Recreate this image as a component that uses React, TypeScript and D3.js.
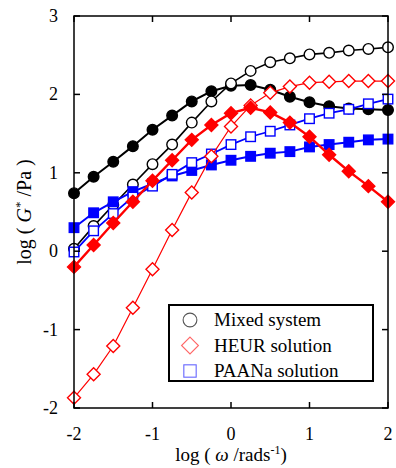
import React from 'react';
import * as d3 from 'd3';

// log(omega) grid, 0.25 step
const logW = [-2, -1.75, -1.5, -1.25, -1, -0.75, -0.5, -0.25, 0, 0.25, 0.5, 0.75, 1, 1.25, 1.5, 1.75, 2];

// Mixed system
const mixedG1 = [0.03, 0.32, 0.59, 0.85, 1.11, 1.36, 1.64, 1.91, 2.14, 2.30, 2.41, 2.46, 2.51, 2.53, 2.56, 2.58, 2.60];
const mixedG2 = [0.74, 0.95, 1.14, 1.34, 1.55, 1.73, 1.91, 2.04, 2.11, 2.12, 2.06, 1.97, 1.90, 1.85, 1.82, 1.81, 1.80];
// HEUR solution
const heurG1 = [-1.87, -1.57, -1.21, -0.72, -0.23, 0.27, 0.75, 1.21, 1.59, 1.86, 2.02, 2.10, 2.15, 2.16, 2.17, 2.17, 2.17];
const heurG2 = [-0.20, 0.08, 0.36, 0.63, 0.90, 1.16, 1.42, 1.61, 1.76, 1.83, 1.77, 1.64, 1.46, 1.23, 1.02, 0.83, 0.63];
// PAANa solution
const paanaG1 = [-0.01, 0.26, 0.48, 0.69, 0.83, 0.98, 1.13, 1.24, 1.36, 1.46, 1.53, 1.61, 1.69, 1.76, 1.81, 1.88, 1.94];
const paanaG2 = [0.30, 0.49, 0.63, 0.76, 0.86, 0.96, 1.03, 1.10, 1.16, 1.21, 1.25, 1.27, 1.33, 1.36, 1.39, 1.42, 1.43];

const xTicks = [-2, -1, 0, 1, 2];
const yTicks = [-2, -1, 0, 1, 2, 3];
const legendLabels = ['Mixed system', 'HEUR solution', 'PAANa solution'];

const W = 396;
const H = 468;
const plot = { left: 74, right: 388, top: 16, bottom: 408 };

const x = d3.scaleLinear().domain([-2, 2]).range([plot.left, plot.right]);
const y = d3.scaleLinear().domain([-2, 3]).range([plot.bottom, plot.top]);

type Shape = 'circle' | 'diamond' | 'square';

const series = [
  { vals: mixedG2, color: '#000', shape: 'circle' as Shape, filled: true, lw: 2 },
  { vals: mixedG1, color: '#000', shape: 'circle' as Shape, filled: false, lw: 1.6 },
  { vals: paanaG2, color: '#0000ff', shape: 'square' as Shape, filled: true, lw: 2 },
  { vals: paanaG1, color: '#0000ff', shape: 'square' as Shape, filled: false, lw: 1.8 },
  { vals: heurG1, color: '#ff0000', shape: 'diamond' as Shape, filled: false, lw: 1.2 },
  { vals: heurG2, color: '#ff0000', shape: 'diamond' as Shape, filled: true, lw: 2.4 },
];

const line = d3.line<number>().x((_, i) => x(logW[i])).y((d) => y(d));

function Marker({ shape, cx, cy, color, filled, size = 1, sw = 1.4 }: any) {
  const fill = filled ? color : '#fff';
  if (shape === 'circle') {
    return <circle cx={cx} cy={cy} r={5.3 * size} fill={fill} stroke={color} strokeWidth={sw} />;
  }
  if (shape === 'square') {
    const s = 9.5 * size;
    return <rect x={cx - s / 2} y={cy - s / 2} width={s} height={s} fill={fill} stroke={color} strokeWidth={sw} />;
  }
  const r = 6.5 * size;
  return (
    <path
      d={`M${cx},${cy - r}L${cx + r},${cy}L${cx},${cy + r}L${cx - r},${cy}Z`}
      fill={fill}
      stroke={color}
      strokeWidth={sw}
    />
  );
}

export default function App() {
  const font = '"Liberation Serif", "Times New Roman", serif';
  const tick = 6;
  return (
    <svg width={W} height={H} style={{ position: 'absolute', left: 0, top: 0, fontFamily: font }}>
      <rect width={W} height={H} fill="#fff" />

      {series.map((s, si) => (
        <g key={si}>
          <path d={line(s.vals) || ''} fill="none" stroke={s.color} strokeWidth={s.lw} />
          {s.vals.map((v, i) => (
            <Marker key={i} shape={s.shape} cx={x(logW[i])} cy={y(v)} color={s.color} filled={s.filled} />
          ))}
        </g>
      ))}

      {/* frame */}
      <rect
        x={plot.left}
        y={plot.top}
        width={plot.right - plot.left}
        height={plot.bottom - plot.top}
        fill="none"
        stroke="#000"
        strokeWidth={1.5}
      />
      {xTicks.map((t) => (
        <g key={'x' + t}>
          <line x1={x(t)} x2={x(t)} y1={plot.bottom} y2={plot.bottom - tick} stroke="#000" strokeWidth={1.5} />
          <line x1={x(t)} x2={x(t)} y1={plot.top} y2={plot.top + tick} stroke="#000" strokeWidth={1.5} />
          <text x={x(t)} y={440} textAnchor="middle" fontSize={18}>
            {t}
          </text>
        </g>
      ))}
      {yTicks.map((t) => (
        <g key={'y' + t}>
          <line x1={plot.left} x2={plot.left + tick} y1={y(t)} y2={y(t)} stroke="#000" strokeWidth={1.5} />
          <line x1={plot.right} x2={plot.right - tick} y1={y(t)} y2={y(t)} stroke="#000" strokeWidth={1.5} />
          <text x={58} y={y(t) + 6} textAnchor="end" fontSize={18}>
            {t}
          </text>
        </g>
      ))}

      {/* axis titles */}
      <text x={231} y={461} textAnchor="middle" fontSize={19}>
        log (<tspan fontStyle="italic"> ω </tspan>/rads
        <tspan dy={-7} fontSize={12}>-1</tspan>
        <tspan dy={7}>)</tspan>
      </text>
      <text transform={`translate(31,${(plot.top + plot.bottom) / 2}) rotate(-90)`} textAnchor="middle" fontSize={20}>
        log (<tspan fontStyle="italic"> G</tspan>
        <tspan dy={-7} fontSize={13}>*</tspan>
        <tspan dy={7}> /Pa )</tspan>
      </text>

      {/* legend */}
      <rect x={169} y={305} width={204} height={76} fill="#fff" stroke="#000" strokeWidth={2} />
      {legendLabels.map((lab, i) => {
        const ly = 320 + i * 25.5;
        const col = ['#555', '#ff6666', '#6666ff'][i];
        const sh: Shape[] = ['circle', 'diamond', 'square'];
        return (
          <g key={lab}>
            <Marker shape={sh[i]} cx={190} cy={ly} color={col} filled={false} size={1.3} sw={1.1} />
            <text x={214} y={ly + 6} fontSize={19}>
              {lab}
            </text>
          </g>
        );
      })}
    </svg>
  );
}
